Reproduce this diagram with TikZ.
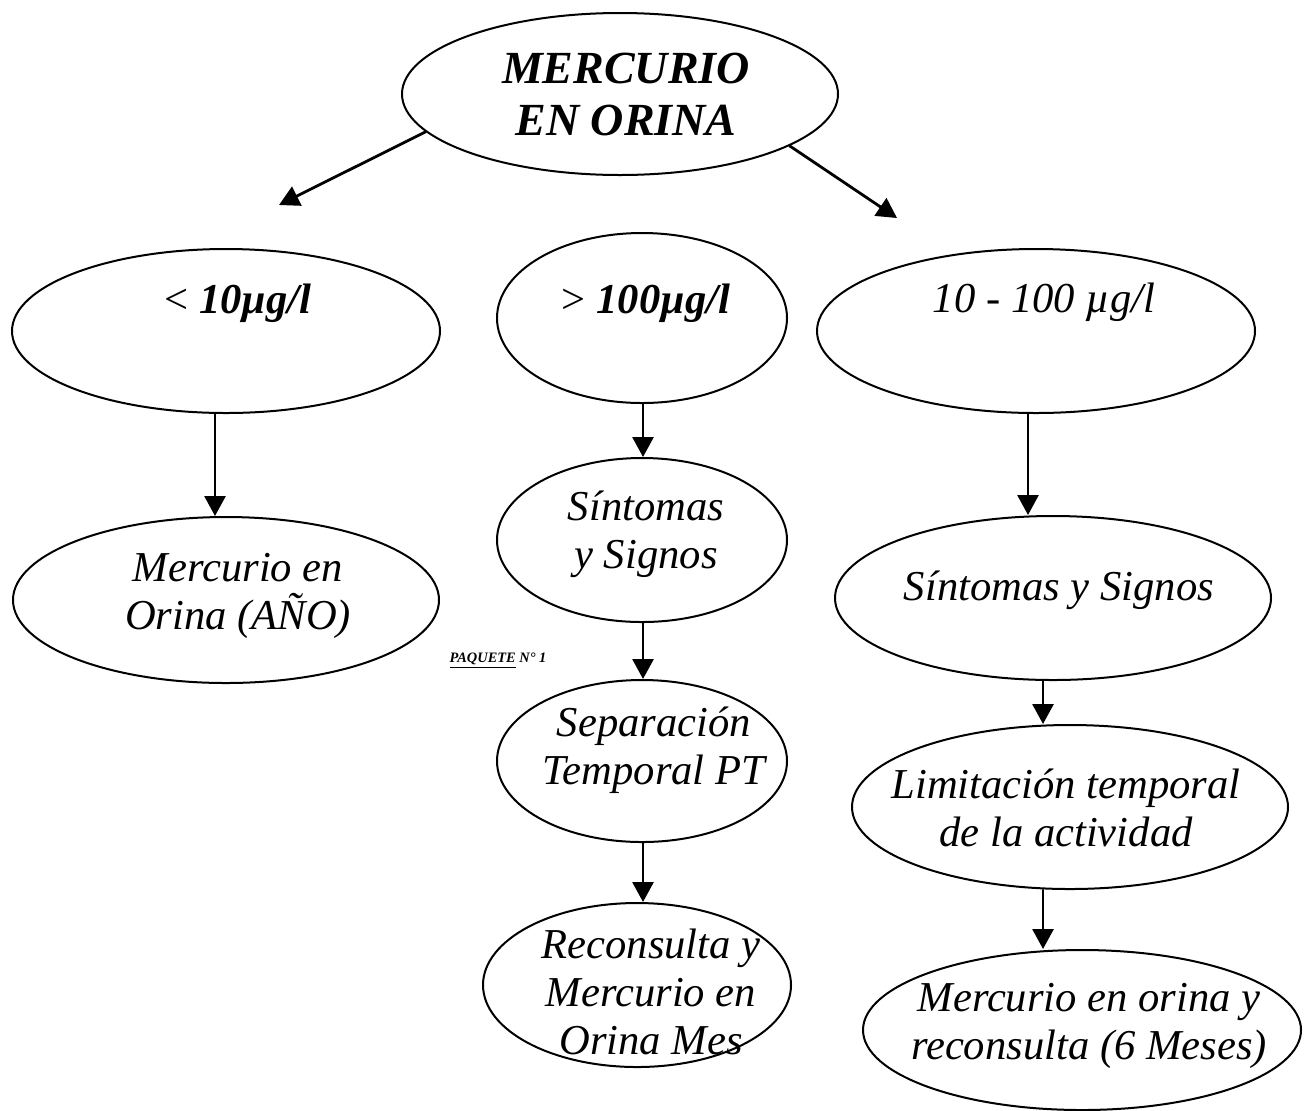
\documentclass[tikz,border=0pt]{standalone}
\usepackage{fontspec}
\setmainfont{Liberation Serif}
\usetikzlibrary{shapes.geometric}
\usetikzlibrary{arrows.meta}

\begin{document}
\begin{tikzpicture}[line cap=round,line join=round,>={Triangle[length=10pt,width=10.5pt]},x=0.5pt,y=-0.5pt, oval/.style={ellipse, draw, line width=1pt, inner sep=0pt}, txt/.style={align=center, font=\fontsize{21.3}{24}\selectfont\itshape}, btxt/.style={align=center, font=\fontsize{21.3}{24}\selectfont\bfseries\itshape}, arr/.style={->, line width=1.4pt}]
                    \useasboundingbox (0,0) rectangle (1309,1110);

                    % ovals
                    \node[oval, minimum width=218pt, minimum height=81pt] (mercurio) at (620,94) {};
                    \node[oval, minimum width=214pt, minimum height=82pt] (bajo) at (226,331) {};
                    \node[oval, minimum width=145pt, minimum height=85pt] (alto) at (642,318) {};
                    \node[oval, minimum width=219pt, minimum height=82pt] (medio) at (1036,331) {};
                    \node[oval, minimum width=213pt, minimum height=83pt] (anual) at (226,600) {};
                    \node[oval, minimum width=145pt, minimum height=82pt] (sintA) at (642,540) {};
                    \node[oval, minimum width=145pt, minimum height=81pt] (separa) at (642,761) {};
                    \node[oval, minimum width=154pt, minimum height=82pt] (reconA) at (637,985) {};
                    \node[oval, minimum width=218pt, minimum height=82pt] (sintB) at (1053,598) {};
                    \node[oval, minimum width=218pt, minimum height=82pt] (limita) at (1070,807) {};
                    \node[oval, minimum width=219pt, minimum height=80pt] (reconB) at (1082,1030) {};

                    % texts
                    \node[btxt, font=\fontsize{23}{26}\selectfont\bfseries\itshape] (mercurioT) at (626,94) {MERCURIO\\EN ORINA};
                    \node[btxt] (bajoT) at (238,303) {{\upshape\mdseries <} 10µg/l};
                    \node[btxt] (altoT) at (646,303) {{\upshape\mdseries >} 100µg/l};
                    \node[txt] (medioT) at (1044,302) {10 - 100 µg/l};
                    \node[txt] (anualT) at (238,596) {Mercurio en\\Orina (AÑO)};
                    \node[txt] (sintAT) at (646,534) {Síntomas\\y Signos};
                    \node[txt] (separaT) at (654,750) {Separación\\Temporal PT};
                    \node[txt] (reconAT) at (651,992) {Reconsulta y\\Mercurio en\\Orina Mes};
                    \node[txt] (sintBT) at (1059,590) {Síntomas y Signos};
                    \node[txt] (limitaT) at (1066,808) {Limitación temporal\\de la actividad};
                    \node[txt] (reconBT) at (1089,1026) {Mercurio en orina y\\reconsulta (6 Meses)};
                    \node[font=\fontsize{7.2}{9}\selectfont\bfseries\itshape] (paquete) at (498,661) {\underline{PAQUETE} N° 1};

                    % arrows
                    \coordinate (izq) at (279,205);
                    \coordinate (der) at (897,218);
                    \coordinate (lcol) at (215,0);
                    \coordinate (mcol) at (643,0);
                    \coordinate (rcolA) at (1028,0);
                    \coordinate (rcol) at (1043,0);

                    \draw[arr] (mercurio.191) -- (izq);
                    \draw[arr] (mercurio.343) -- (der);
                    \draw[arr] (bajo.south -| lcol) -- (anual.north -| lcol);
                    \draw[arr] (alto.south -| mcol) -- (sintA.north -| mcol);
                    \draw[arr] (sintA.south -| mcol) -- (separa.north -| mcol);
                    \draw[arr] (separa.south -| mcol) -- (reconA.north -| mcol);
                    \draw[arr] (medio.south -| rcolA) -- (sintB.north -| rcolA);
                    \draw[arr] (sintB.south -| rcol) -- (limita.north -| rcol);
                    \draw[arr] (limita.south -| rcol) -- (reconB.north -| rcol);
                \end{tikzpicture}
\end{document}
